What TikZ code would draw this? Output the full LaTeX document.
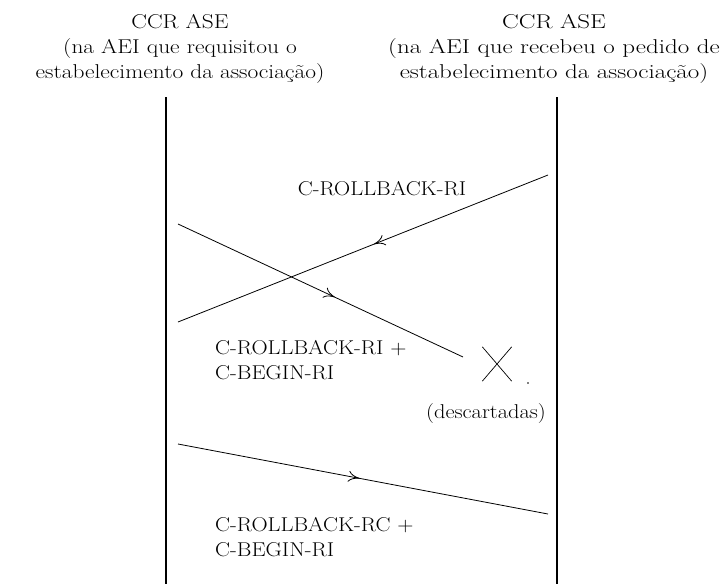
\documentclass[tikz,border=0pt]{standalone}
\usepackage{graphicx}
\usetikzlibrary{decorations.markings,arrows.meta}
% horizontally widened serif text, one or more lines
\newcommand{\widetext}[3][c]{\scalebox{#2}[1]{\begin{tabular}{@{}#1@{}}#3\end{tabular}}}
\begin{document}
\begin{tikzpicture}[x=1pt,y=-1pt,
  txt/.style={font=\fontsize{20}{25}\selectfont, inner sep=0pt},
  life/.style={line width=1.1pt},
  msg/.style={line width=0.8pt, postaction={decorate},
    decoration={markings, mark=at position #1 with {\arrow{To[length=11pt,width=11pt]}}}}]
\useasboundingbox (0,0) rectangle (726,584);
% header labels
\node[txt] (hl) at (180,48) {\widetext{1.17}{CCR ASE\\(na AEI que requisitou o\\estabelecimento da associação)}};
\node[txt] (hr) at (554,48) {\widetext{1.25}{CCR ASE\\(na AEI que recebeu o pedido de\\estabelecimento da associação)}};
% lifelines
\coordinate (lt) at (166,97); \coordinate (lb) at (166,584);
\coordinate (rt) at (557,97); \coordinate (rb) at (557,584);
\draw[life] (lt) -- (lb);
\draw[life] (rt) -- (rb);
% messages
\coordinate (a1s) at (548,175); \coordinate (a1e) at (178,322);
\coordinate (a2s) at (178,224); \coordinate (a2e) at (463,357);
\coordinate (a3s) at (178,444); \coordinate (a3e) at (548,514);
\draw[msg=0.47] (a1s) -- (a1e);
\draw[msg=0.55] (a2s) -- (a2e);
\draw[msg=0.49] (a3s) -- (a3e);
% message labels
\node[txt] (m1) at (382,190) {\widetext{1.12}{C-ROLLBACK-RI}};
\node[txt, anchor=west] (m2) at (215,362) {\widetext[l]{1.12}{C-ROLLBACK-RI +\\C-BEGIN-RI}};
\node[txt, anchor=west] (m3) at (215,539) {\widetext[l]{1.12}{C-ROLLBACK-RC +\\C-BEGIN-RI}};
% discarded mark
\node[inner sep=0pt, minimum width=29pt, minimum height=34pt] (x) at (497,364) {};
\draw[line width=0.7pt] (x.north west) -- (x.south east) (x.north east) -- (x.south west);
\fill (528,383) circle (0.8pt);
\node[txt] (d) at (486,413) {\widetext{1.12}{(descartadas)}};
\end{tikzpicture}
\end{document}
